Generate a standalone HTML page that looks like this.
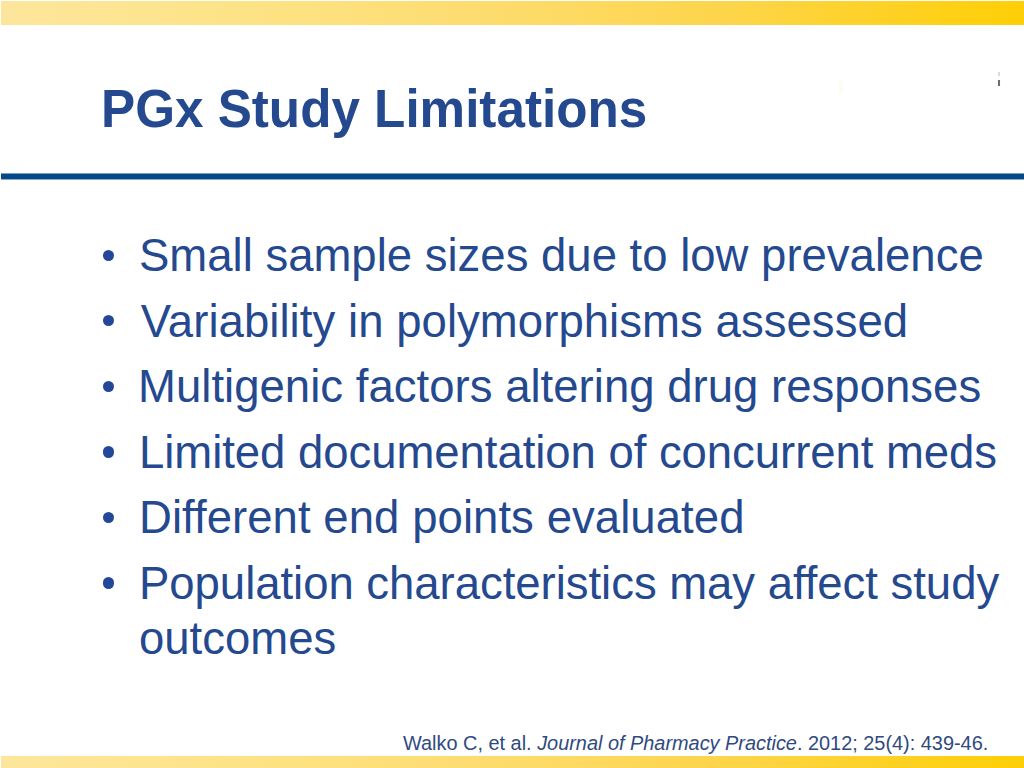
<!DOCTYPE html>
<html><head><meta charset="utf-8">
<style>
html,body{margin:0;padding:0;}
body{width:1024px;height:768px;position:relative;overflow:hidden;background:#fff;font-family:"Liberation Sans",sans-serif;}
.band{position:absolute;left:1px;right:0;background:linear-gradient(to right,#fde69c 0%,#fde385 25%,#fddd72 45%,#fdd54c 70%,#fecf06 100%);}
#top{top:1px;height:24px;}
#bot{top:756px;height:12px;}
#rule{position:absolute;left:1px;right:0;top:173px;height:7px;background:linear-gradient(to bottom,#7a9cc0 0px,#7a9cc0 1px,#06498a 1px,#06498a 6px,#8aaacb 6px,#8aaacb 7px);}
.t{position:absolute;white-space:nowrap;color:#24498f;}
#title{left:101px;top:82px;font-size:53px;line-height:53px;font-weight:bold;transform:scaleX(0.966);transform-origin:0 0;}
.b{font-size:45.5px;line-height:45.5px;left:139px;}
.dot{position:absolute;width:11.4px;height:11.4px;border-radius:50%;background:#23489a;left:103px;}
#ref{left:403px;font-size:19.9px;line-height:19.9px;color:#2f4a80;}
.mk{position:absolute;left:998px;width:2px;}
</style></head><body>
<div class="band" id="top"></div>
<div id="rule"></div>
<div class="band" id="bot"></div>
<div class="mk" style="top:72px;height:4px;background:#d8dbde"></div>
<div class="mk" style="top:80px;height:6px;background:#64707c;box-shadow:0 0 1px #b8c0c8"></div>
<div class="mk" style="left:839px;top:81px;width:4px;height:12px;background:#fdfcef"></div>
<div class="t" id="title">PGx Study Limitations</div>
<div class="dot" style="top:249.5px"></div>
<div class="t b" style="top:233px">Small sample sizes due to low prevalence</div>
<div class="dot" style="top:315px"></div>
<div class="t b" style="top:299px;left:140.8px;letter-spacing:0.055px">Variability in polymorphisms assessed</div>
<div class="dot" style="top:381px"></div>
<div class="t b" style="top:364px;left:138px;letter-spacing:0.025px">Multigenic factors altering drug responses</div>
<div class="dot" style="top:446.2px"></div>
<div class="t b" style="top:430px;letter-spacing:-0.046px">Limited documentation of concurrent meds</div>
<div class="dot" style="top:512px"></div>
<div class="t b" style="top:495px;letter-spacing:0.059px">Different end points evaluated</div>
<div class="dot" style="top:577.3px"></div>
<div class="t b" style="top:561px;letter-spacing:-0.033px">Population characteristics may affect study</div>
<div class="t b" style="top:616px">outcomes</div>
<div class="t" id="ref" style="top:734px">Walko C, et al. <i>Journal of Pharmacy Practice</i>. 2012; 25(4): 439-46.</div>
</body></html>
